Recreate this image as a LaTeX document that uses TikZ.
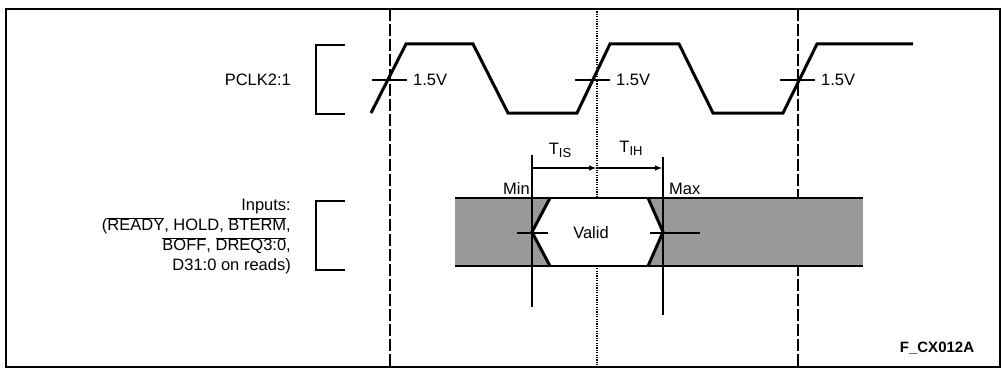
\documentclass[tikz,border=0pt]{standalone}
\usepackage{fontspec}
\setmainfont{Liberation Sans}
\usetikzlibrary{arrows.meta, positioning}
\newcommand{\actlow}[1]{$\overline{\mbox{#1}}$}
\tikzset{
  frame/.style={draw=black, line width=1.6pt},
  edgeline/.style={draw=black, line width=1.1pt, dash pattern=on 12pt off 3pt},
  midline/.style={draw=black, line width=1.1pt, dash pattern=on 1.2pt off 1.2pt},
  wave/.style={draw=black, line width=3pt, line join=miter},
  level/.style={draw=black, line width=2.6pt},
  bracket/.style={draw=black, line width=2.6pt},
  marker/.style={draw=black, line width=1.8pt},
  timearrow/.style={-{Latex[length=8pt,width=5.5pt]}, line width=1.6pt},
  label/.style={font=\fontsize{16.5}{20}\selectfont, inner sep=0pt},
  shade/.style={fill=black!40}
}
\begin{document}
\begin{tikzpicture}[x=1pt,y=-1pt]
  \useasboundingbox (0,0) rectangle (1003,369);
  \draw[frame] (6,9) rectangle (1000,367);

  % reference edges
  \draw[edgeline] (390,9) -- (390,367);
  \draw[midline] (597,9) -- (597,367);
  \draw[edgeline] (798,9) -- (798,367);

  % clock
  \node[label, anchor=east] (clk) at (291,80) {PCLK2:1};
  \draw[bracket] (345,45) -- (316,45) -- (316,114) -- (345,114);
  \draw[wave] (371,113) -- (406,44) -- (473,44) -- (508,113) -- (577,113)
    -- (610,44) -- (679,44) -- (713,113) -- (783,113) -- (817,44) -- (913,44);
  \foreach \x/\n in {390/a, 593/b, 798/c}{
    \coordinate (x\n) at (\x,80);
    \draw[level] ([xshift=-18pt]x\n) -- ([xshift=17pt]x\n);
    \node[label, anchor=west] (v\n) at ([xshift=23pt]x\n) {1.5V};
  }

  % inputs
  \node[label, anchor=east, align=right] (inp) at (291,237)
    {Inputs:\\(\actlow{READY}, HOLD, \actlow{BTERM},\\\actlow{BOFF}, \actlow{DREQ3:0},\\D31:0 on reads)};
  \draw[bracket] (345,201) -- (316,201) -- (316,270) -- (345,270);
  \fill[shade] (455,198) rectangle (863,266);
  \fill[white] (550,198) -- (648,198) -- (663,232) -- (648,266) -- (550,266) -- (532,232) -- cycle;
  \draw[wave] (550,198) -- (532,232) -- (550,266);
  \draw[wave] (648,198) -- (663,232) -- (648,266);
  \draw[level] (455,198) -- (863,198);
  \draw[level] (455,266) -- (863,266);
  \draw[level] (517,233) -- (548,233);
  \draw[level] (650,233) -- (700,233);
  \node[label] (valid) at (591,233) {Valid};

  % setup and hold
  \coordinate (mintop) at (532,155);
  \coordinate (minbot) at (532,307);
  \coordinate (maxtop) at (663,157);
  \coordinate (maxbot) at (663,315);
  \coordinate (ref) at (597,168);
  \draw[marker] (mintop) -- (minbot);
  \draw[marker] (maxtop) -- (maxbot);
  \draw[timearrow] (mintop |- ref) -- (ref);
  \draw[timearrow] (ref) -- (maxtop |- ref);
  \node[label] (tis) at (560,150) {T\raisebox{-0.35ex}{\fontsize{13}{13}\selectfont IS}};
  \node[label] (tih) at (631,148) {T\raisebox{-0.35ex}{\fontsize{13}{13}\selectfont IH}};
  \node[label, anchor=east] (min) at (530,189) {Min};
  \node[label, anchor=west] (max) at (669,189) {Max};

  \node[label, font=\fontsize{15}{17}\selectfont\bfseries] (fig) at (937,348) {F\_CX012A};
\end{tikzpicture}
\end{document}
